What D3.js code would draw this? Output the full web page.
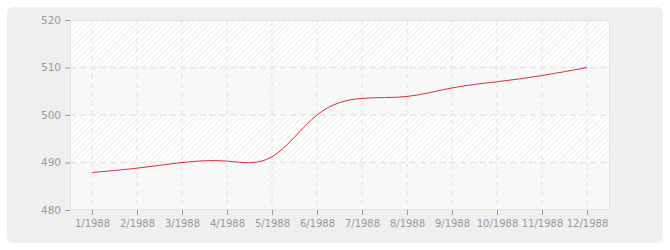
<!DOCTYPE html>
<html>
<head>
<meta charset="utf-8">
<script src="https://cdn.jsdelivr.net/npm/d3@7"></script>
<style>
  body { margin: 0; background: #fff; }
  svg text { font-family: "DejaVu Sans", Verdana, sans-serif; font-size: 10px; fill: #999; }
</style>
</head>
<body>
<div id="chart"></div>
<script>
const months = ['1/1988','2/1988','3/1988','4/1988','5/1988','6/1988','7/1988','8/1988','9/1988','10/1988','11/1988','12/1988'];
const values = [487.9, 488.8, 490.0, 490.3, 491.2, 500.0, 503.5, 503.9, 505.7, 507.0, 508.3, 510.0];
const yTicks = [480, 490, 500, 510, 520];

const w = 670, h = 250;
const plotLeft = 70, plotRight = 610, plotTop = 20, plotBottom = 210;

let svg = d3.select('#chart').append('svg')
  .attr('width', w)
  .attr('height', h);

// stripes for the plot background
let defs = svg.append('defs');
let pat = defs.append('pattern')
  .attr('id', 'hatch')
  .attr('patternUnits', 'userSpaceOnUse')
  .attr('width', 4).attr('height', 4)
  .attr('patternTransform', 'rotate(45)');
pat.append('rect').attr('width', 4).attr('height', 4).attr('fill', '#fff');
pat.append('rect').attr('width', 1.3).attr('height', 4).attr('fill', '#f1f1f1');

svg.append('rect')
  .attr('x', 7).attr('y', 7)
  .attr('width', 656).attr('height', 236)
  .attr('rx', 6)
  .attr('fill', '#efefef');

const xScale = d3.scalePoint()
  .domain(months)
  .range([plotLeft + 22, plotRight - 23]);

const yScale = d3.scaleLinear()
  .domain([480, 520])
  .range([plotBottom, plotTop]);

svg.append('rect')
  .attr('x', plotLeft).attr('y', plotTop)
  .attr('width', plotRight - plotLeft).attr('height', plotBottom - plotTop)
  .attr('fill', 'url(#hatch)');

// alternate bands
for (let i = 0; i < yTicks.length - 1; i += 2) {
  svg.append('rect')
    .attr('x', plotLeft)
    .attr('y', yScale(yTicks[i + 1]))
    .attr('width', plotRight - plotLeft)
    .attr('height', yScale(yTicks[i]) - yScale(yTicks[i + 1]))
    .attr('fill', '#f7f7f7')
    .attr('opacity', 0.6);
}

// grid
svg.append('g').selectAll('line')
  .data(months)
  .enter().append('line')
  .attr('x1', d => xScale(d)).attr('x2', d => xScale(d))
  .attr('y1', plotTop).attr('y2', plotBottom)
  .attr('stroke', '#e2e2e2')
  .attr('stroke-dasharray', '5,4');

svg.append('g').selectAll('line')
  .data(yTicks.slice(1, -1))
  .enter().append('line')
  .attr('x1', plotLeft).attr('x2', plotRight)
  .attr('y1', d => yScale(d)).attr('y2', d => yScale(d))
  .attr('stroke', '#e6e6e6')
  .attr('stroke-width', 1.5)
  .attr('stroke-dasharray', '6,4');

// plot border
svg.append('rect')
  .attr('x', plotLeft + 0.5).attr('y', plotTop + 0.5)
  .attr('width', plotRight - plotLeft - 1).attr('height', plotBottom - plotTop - 1)
  .attr('fill', 'none')
  .attr('stroke', '#e2e2e2');

const line = d3.line()
  .x((d, i) => xScale(months[i]))
  .y(d => yScale(d))
  .curve(d3.curveNatural);

svg.append('path')
  .datum(values)
  .attr('d', line)
  .attr('fill', 'none')
  .attr('stroke', '#d7303d')
  .attr('stroke-width', 1);

const xAxis = d3.axisBottom(xScale).tickSize(5).tickPadding(5);
let gx = svg.append('g')
  .attr('transform', 'translate(0,' + plotBottom + ')')
  .call(xAxis);
gx.select('.domain').remove();
gx.selectAll('.tick line').attr('stroke', '#999');
gx.selectAll('.tick text').attr('fill', '#999').style('font-size', '10px');

const yAxis = d3.axisLeft(yScale).tickValues(yTicks).tickSize(5).tickPadding(4);
let gy = svg.append('g')
  .attr('transform', 'translate(' + plotLeft + ',0)')
  .call(yAxis);
gy.select('.domain').remove();
gy.selectAll('.tick line').attr('stroke', '#999');
gy.selectAll('.tick text').attr('fill', '#999').style('font-size', '10.5px');
</script>
</body>
</html>
